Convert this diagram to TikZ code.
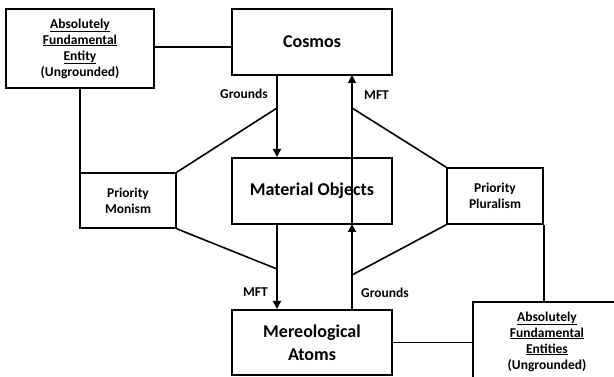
\documentclass[tikz,border=0pt]{standalone}
\usepackage{fontspec}
\setmainfont{Carlito}
\usetikzlibrary{arrows.meta}

\begin{document}
\begin{tikzpicture}[
			x=1pt, y=-1pt
			,every node/.append style={font=\bfseries}
			,big/.style={draw, line width=2pt, minimum width=160pt, minimum height=66pt, inner sep=0pt, align=center, font=\fontsize{18}{23}\selectfont\bfseries}
			,small/.style={draw, line width=1.6pt, minimum width=96pt, minimum height=56pt, inner sep=0pt, align=center, font=\fontsize{13.5}{16}\selectfont\bfseries}
			,afe/.style={small, minimum width=148pt, minimum height=79pt}
			,lbl/.style={font=\fontsize{13.5}{16}\selectfont\bfseries, inner sep=0pt}
			,con/.style={line width=1.6pt}
			,arr/.style={line width=1.8pt, -{Triangle[length=8pt,width=8pt]}}
		]
			\useasboundingbox (0,0) rectangle (614,377);
			\clip (0,0) rectangle (614,377);

			% boxes
			\node [big] (C) at (312,42) {Cosmos};
			\node [big] (MO) at (312,191) {Material Objects};
			\node [big, minimum height=65pt] (MA) at (312,342.5) {Mereological\\Atoms};
			\node [small, minimum height=55pt] (PM) at (128,200.5) {Priority\\Monism};
			\node [small] (PP) at (495,196) {Priority\\Pluralism};
			\node [afe] (A) at (80,48.5) {\underline{Absolutely}\\\underline{Fundamental}\\\underline{Entity}\\(Ungrounded)};
			\node [afe] (B) at (547,341.5) {\underline{Absolutely}\\\underline{Fundamental}\\\underline{Entities}\\(Ungrounded)};

			% grounding and MFT arrows
			\coordinate (c1) at (277,75);
			\coordinate (c2) at (352,75);
			\coordinate (m1) at (277,224);
			\coordinate (m2) at (352,224);
			\draw [arr] (c1) -- (c1 |- MO.north);
			\draw [arr] (m2) -- (c2);
			\draw [arr] (m1) -- (m1 |- MA.north);
			\draw [arr] (m2 |- MA.north) -- (m2);

			\coordinate (j1) at (277,108);
			\coordinate (j2) at (352,108);
			\coordinate (j3) at (277,269);
			\coordinate (j4) at (352,275);

			\node [lbl, anchor=east] (g1) at (268,94) {Grounds};
			\node [lbl, anchor=west] (f1) at (364,95) {MFT};
			\node [lbl, anchor=east] (f2) at (268,292) {MFT};
			\node [lbl, anchor=west] (g2) at (361,293) {Grounds};

			% plain lines
			\draw [con] (PM.north east) -- (j1);
			\draw [con] (j2) -- (PP.north west);
			\draw [con] (PM.south east) -- (j3);
			\draw [con] (PP.south west) -- (j4);
			\draw [con] (A.east |- 0,47) -- (C.west |- 0,47);
			\draw [con] (A.south) -- (A.south |- PM.north);
			\draw [con] (PP.south east) -- (PP.south east |- B.north);
			\draw [con] (MA.east) -- (MA.east -| B.west);
		\end{tikzpicture}
\end{document}
